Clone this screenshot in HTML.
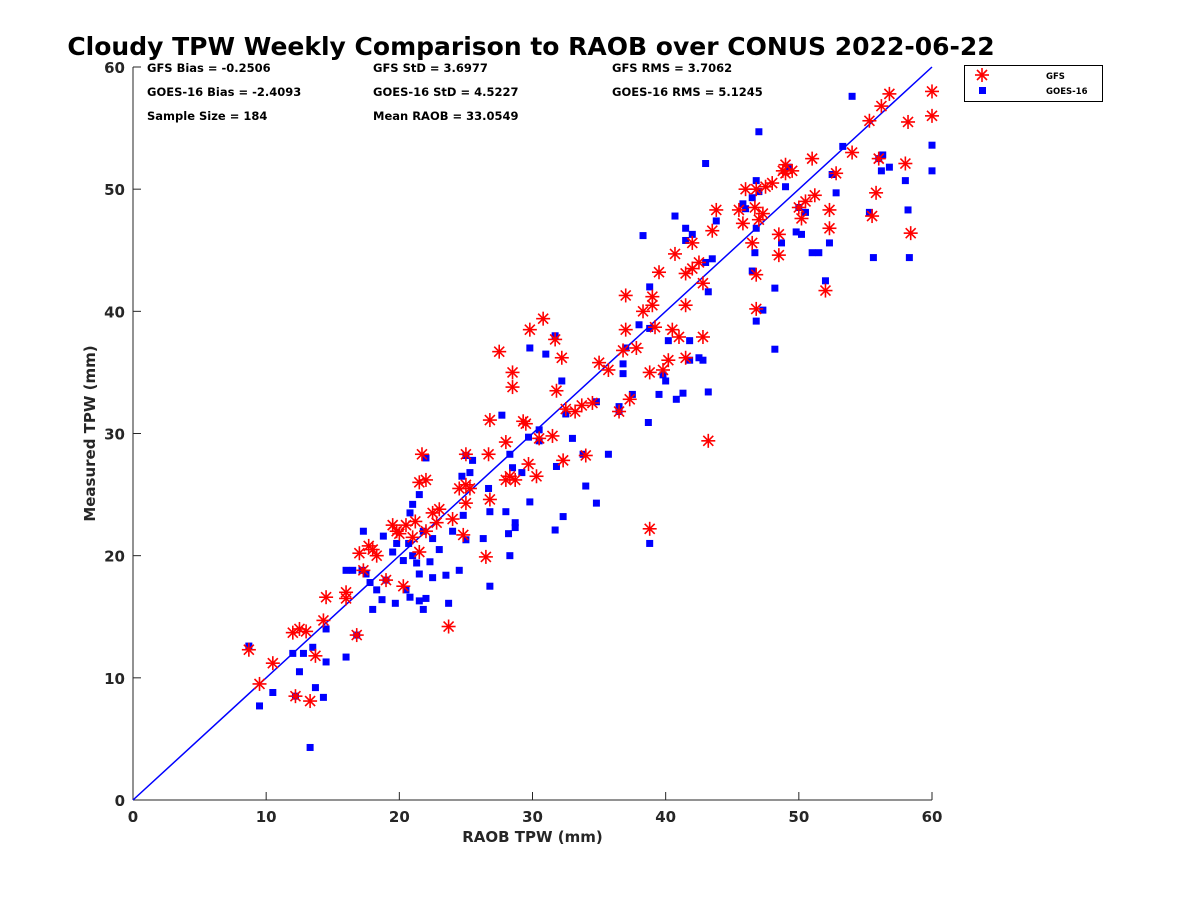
<!DOCTYPE html>
<html><head><meta charset="utf-8"><style>
body{margin:0;background:#fff;}
svg{display:block;font-family:"DejaVu Sans","Liberation Sans",sans-serif;}
</style></head><body>
<svg id="chart" width="1200" height="900">
<rect width="1200" height="900" fill="#fff"/>
<text x="531" y="55" text-anchor="middle" font-size="25" font-weight="bold" fill="#000">Cloudy TPW Weekly Comparison to RAOB over CONUS 2022-06-22</text>
<g font-size="11.5" font-weight="bold" fill="#000">
<text x="147" y="72">GFS Bias = -0.2506</text>
<text x="147" y="96">GOES-16 Bias = -2.4093</text>
<text x="147" y="120">Sample Size = 184</text>
<text x="373" y="72">GFS StD = 3.6977</text>
<text x="373" y="96">GOES-16 StD = 4.5227</text>
<text x="373" y="120">Mean RAOB = 33.0549</text>
<text x="612" y="72">GFS RMS = 3.7062</text>
<text x="612" y="96">GOES-16 RMS = 5.1245</text>
</g>
<g id="axes"></g>
<g id="marks"></g>
<g>
<rect x="964.5" y="65.5" width="138" height="36" fill="#fff" stroke="#000" stroke-width="1"/>
<g stroke="#f00" stroke-width="1.6">
<line x1="982" y1="68" x2="982" y2="82"/><line x1="975" y1="75" x2="989" y2="75"/><line x1="977" y1="70" x2="987" y2="80"/><line x1="977" y1="80" x2="987" y2="70"/>
</g>
<text x="1046" y="79" font-size="8.5" font-weight="bold">GFS</text>
<rect x="979" y="87" width="7" height="7" fill="#00f"/>
<text x="1046" y="94" font-size="8.5" font-weight="bold">GOES-16</text>
</g>
</svg>
<script>
const xTicks=[0,10,20,30,40,50,60];
const yTicks=[0,10,20,30,40,50,60];
const gfsX=[8.7,9.5,10.5,12,12.2,12.5,13,13.3,13.7,14.3,14.5,16,16,16.8,17,17.3,17.7,18,18.3,19,19.5,19.8,20,20.3,20.5,21,21.2,21.5,21.7,21.5,22,22,22.5,22.8,23,23.7,24,24.5,24.8,25,25,25.3,25,26.5,26.7,26.8,26.8,27.5,28,28,28.3,28.5,28.5,28.7,29.3,29.5,29.7,29.8,30.3,30.5,30.8,31.5,31.7,31.8,32.2,32.3,32.5,33.2,33.7,34,34.5,35,35.7,36.5,36.8,37,37,37.3,37.8,38.3,38.8,38.8,39,39,39.2,39.5,39.8,40.2,40.5,40.7,41,41.5,41.5,41.5,42,42,42.5,42.8,42.8,43.2,43.5,43.8,45.5,45.8,46,46.5,46.7,46.8,46.8,46.8,47,47.3,47.5,48,48.5,48.5,48.8,49,49,49.5,50,50.2,50.5,51,51.2,52,52.3,52.3,52.8,54,55.3,55.5,55.8,56,56.2,56.8,58,58.2,58.4,60,60];
const gfsY=[12.3,9.5,11.2,13.7,8.5,14,13.8,8.1,11.8,14.7,16.6,16.5,17,13.5,20.2,18.8,20.8,20.5,20,18,22.5,22,21.8,17.5,22.5,21.5,22.8,20.3,28.3,26,26.2,22,23.5,22.7,23.8,14.2,23,25.5,21.7,28.3,25.8,25.5,24.3,19.9,28.3,31.1,24.6,36.7,26.2,29.3,26.5,33.8,35,26.2,31,30.8,27.5,38.5,26.5,29.6,39.4,29.8,37.7,33.5,36.2,27.8,32,31.8,32.3,28.2,32.5,35.8,35.2,31.8,36.8,38.5,41.3,32.8,37,40,35,22.2,40.5,41.2,38.7,43.2,35.2,36,38.5,44.7,37.9,36.2,40.5,43.1,45.6,43.5,44,37.9,42.3,29.4,46.6,48.3,48.3,47.2,50,45.6,48.5,50,43,40.2,47.5,48,50.2,50.5,44.6,46.3,51.5,52,51.3,51.5,48.5,47.6,49,52.5,49.5,41.7,48.3,46.8,51.3,53,55.6,47.8,49.7,52.5,56.8,57.8,52.1,55.5,46.4,58,56];
const goesX=[8.7,9.5,10.5,12,12.2,12.5,12.8,13.3,13.5,13.7,14.3,14.5,14.5,16,16,16.5,16.8,17.2,17.3,17.5,17.8,18,18.3,18.7,18.8,19,19.5,19.7,19.8,20.3,20.5,20.7,20.8,20.8,21,21,21.3,21.5,21.5,21.5,21.8,21.8,22,22,22.3,22.5,22.5,23,23.5,23.7,24,24.5,24.7,24.8,25,25,25.5,25.3,26.3,26.7,26.8,26.8,27.7,28,28.2,28.3,28.3,28.5,28.7,28.7,29.2,29.7,29.8,29.8,30.5,30.5,31,31.7,31.7,31.8,32.3,32.2,32.5,33,33.8,34,34.8,34.8,35.7,36.5,36.5,36.8,36.8,37,37.5,38,38.3,38.7,38.8,38.8,38.8,39.5,39.8,40,40.2,40.7,40.8,41.3,41.5,41.5,41.8,41.8,42,42.5,42.8,43,43,43.2,43.2,43.5,43.8,45.8,46,46.5,46.5,46.7,46.8,46.8,46.8,47,47,47.3,48.2,48.2,48.7,49,49.2,49.8,50,50.2,50.5,51,51.5,52,52.3,52.5,52.8,53.3,54,55.3,55.6,56,56.2,56.3,56.8,58,58.2,58.3,60,60];
const goesY=[12.6,7.7,8.8,12,8.5,10.5,12,4.3,12.5,9.2,8.4,11.3,14,11.7,18.8,18.8,13.5,18.8,22,18.5,17.8,15.6,17.2,16.4,21.6,18,20.3,16.1,21,19.6,17.2,21,23.5,16.6,24.2,20,19.4,18.5,16.3,25,15.6,22,28,16.5,19.5,21.4,18.2,20.5,18.4,16.1,22,18.8,26.5,23.3,21.3,28.2,27.8,26.8,21.4,25.5,17.5,23.6,31.5,23.6,21.8,28.3,20,27.2,22.3,22.7,26.8,29.7,24.4,37,29.4,30.3,36.5,38,22.1,27.3,23.2,34.3,31.6,29.6,28.3,25.7,24.3,32.6,28.3,31.8,32.2,35.7,34.9,37,33.2,38.9,46.2,30.9,42,38.6,21,33.2,34.8,34.3,37.6,47.8,32.8,33.3,45.8,46.8,36,37.6,46.3,36.2,36,52.1,44,41.6,33.4,44.3,47.4,48.8,48.4,43.3,49.3,44.8,39.2,50.7,46.8,54.7,49.8,40.1,36.9,41.9,45.6,50.2,51.8,46.5,48.5,46.3,48.1,44.8,44.8,42.5,45.6,51.2,49.7,53.5,57.6,48.1,44.4,52.5,51.5,52.8,51.8,50.7,48.3,44.4,53.6,51.5];

const X0=133,X1=932,Y0=800,Y1=67;
const sx=v=>X0+(v-0)/60*(X1-X0);
const sy=v=>Y0-(v-0)/60*(Y0-Y1);
const NS='http://www.w3.org/2000/svg';
function mk(tag,attrs,parent){const e=document.createElementNS(NS,tag);for(const k in attrs)e.setAttribute(k,attrs[k]);parent.appendChild(e);return e;}
const axes=document.getElementById('axes');
const marks=document.getElementById('marks');

let xa=mk('line',{x1:X0,y1:Y0,x2:X1,y2:Y0,stroke:'#262626','stroke-width':1},axes);


let ya=mk('line',{x1:X0,y1:Y0,x2:X0,y2:Y1,stroke:'#262626','stroke-width':1},axes);


xTicks.forEach(t=>{
  const x=sx(t);
  const tk=mk('line',{x1:x,y1:Y0,x2:x,y2:Y0-8,stroke:'#262626'},axes);
  
  
  const tl=mk('text',{x:x,y:Y0+22,'text-anchor':'middle','font-size':15,'font-weight':'bold',fill:'#262626'},axes);
  tl.textContent=t;
  
  
});
yTicks.forEach(t=>{
  const y=sy(t);
  const tk=mk('line',{x1:X0,y1:y,x2:X0+8,y2:y,stroke:'#262626'},axes);
  
  
  const tl=mk('text',{x:X0-8,y:y+6,'text-anchor':'end','font-size':15,'font-weight':'bold',fill:'#262626'},axes);
  tl.textContent=t;
  
  
});
const xl=mk('text',{x:(X0+X1)/2,y:842,'text-anchor':'middle','font-size':15,'font-weight':'bold',fill:'#262626'},axes);
xl.textContent='RAOB TPW (mm)';


const yl=mk('text',{x:95,y:(Y0+Y1)/2,'text-anchor':'middle','font-size':15,'font-weight':'bold',fill:'#262626',transform:`rotate(-90 95 ${(Y0+Y1)/2})`},axes);
yl.textContent='Measured TPW (mm)';



const oneLine=mk('line',{x1:sx(0),y1:sy(0),x2:sx(60),y2:sy(60),stroke:'#00f','stroke-width':1.5},marks);



goesX.forEach((v,i)=>{
  const r=mk('rect',{x:sx(v)-3.5,y:sy(goesY[i])-3.5,width:7,height:7,fill:'#00f'},marks);
  
  
});
gfsX.forEach((v,i)=>{
  const cx=sx(v),cy=sy(gfsY[i]);
  const g=mk('g',{stroke:'#f00','stroke-width':1.6},marks);
  
  
  mk('line',{x1:cx,y1:cy-7,x2:cx,y2:cy+7},g);
  mk('line',{x1:cx-7,y1:cy,x2:cx+7,y2:cy},g);
  mk('line',{x1:cx-5,y1:cy-5,x2:cx+5,y2:cy+5},g);
  mk('line',{x1:cx-5,y1:cy+5,x2:cx+5,y2:cy-5},g);
});
</script>
</body></html>
